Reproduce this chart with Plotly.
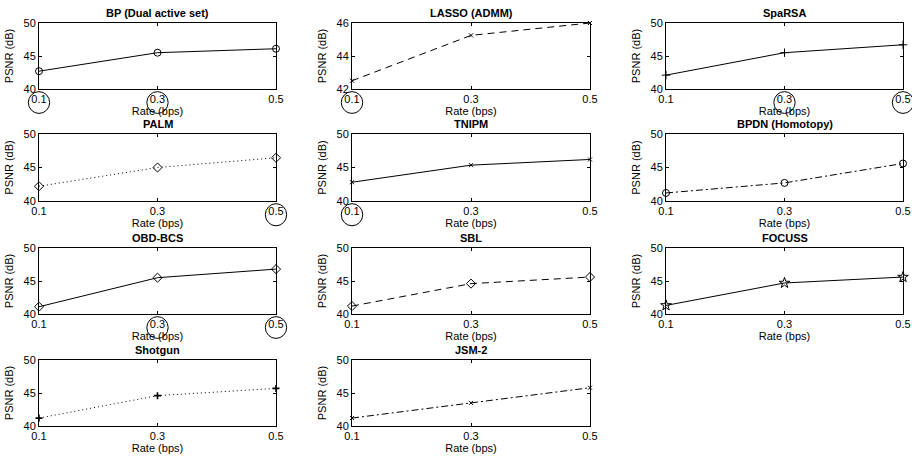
import plotly.graph_objects as go

# ---------------- data ----------------
rates = [0.1, 0.3, 0.5]
rate_labels = ["0.1", "0.3", "0.5"]

methods = ["BP (Dual active set)", "LASSO (ADMM)", "SpaRSA",
           "PALM", "TNIPM", "BPDN (Homotopy)",
           "OBD-BCS", "SBL", "FOCUSS",
           "Shotgun", "JSM-2"]

psnr_bp = [42.7, 45.5, 46.1]
psnr_lasso = [42.5, 45.25, 46.0]
psnr_sparsa = [42.1, 45.5, 46.7]
psnr_palm = [42.2, 45.0, 46.45]
psnr_tnipm = [42.8, 45.35, 46.2]
psnr_bpdn = [41.2, 42.7, 45.6]
psnr_obd = [41.1, 45.5, 46.8]
psnr_sbl = [41.2, 44.6, 45.6]
psnr_focuss = [41.3, 44.7, 45.6]
psnr_shotgun = [41.2, 44.6, 45.7]
psnr_jsm2 = [41.2, 43.5, 45.8]

psnr_all = [psnr_bp, psnr_lasso, psnr_sparsa, psnr_palm, psnr_tnipm, psnr_bpdn,
            psnr_obd, psnr_sbl, psnr_focuss, psnr_shotgun, psnr_jsm2]

y_ranges = [[40, 50], [42, 46], [40, 50], [40, 50], [40, 50], [40, 50],
            [40, 50], [40, 50], [40, 50], [40, 50], [40, 50]]
y_ticks = [[40, 45, 50], [42, 44, 46], [40, 45, 50], [40, 45, 50], [40, 45, 50],
           [40, 45, 50], [40, 45, 50], [40, 45, 50], [40, 45, 50], [40, 45, 50],
           [40, 45, 50]]

# rate ticks circled in each panel
circled = {0: [0.1, 0.3], 1: [0.1], 2: [0.3, 0.5], 3: [0.5], 4: [0.1], 6: [0.3, 0.5]}

# ---------------- styles ----------------
DASH = "7px,5px"
DOT = "1px,3px"
DASHDOT = "7px,3px,2px,3px"
dashes = ["solid", DASH, "solid", DOT, "solid", DASHDOT,
          "solid", DASH, "solid", DOT, DASHDOT]
symbols = ["circle-open", "x-thin-open", "cross-thin-open", "diamond-open",
           "x-thin-open", "circle-open", "diamond-open", "diamond-open",
           "star-open", "cross-thin-open", "x-thin-open"]
msizes = [7, 4, 6, 7, 4, 7, 7, 7, 8, 5, 4]
mwidths = [1, 1, 1, 1, 1, 1, 1, 1, 1, 1.6, 1]

W, H = 912, 458
col_px = [(39, 276), (352, 590), (666, 903)]
row_px = [(23, 89), (134, 201), (248, 314), (360, 426)]

FONT = "Liberation Sans, Arial, Helvetica, sans-serif"

fig = go.Figure()
layout = dict(
    template="none",
    width=W, height=H,
    margin=dict(l=0, r=0, t=0, b=0, pad=0),
    paper_bgcolor="white", plot_bgcolor="white",
    showlegend=False,
    font=dict(family=FONT, size=11, color="black"),
)
annotations = []
shapes = []

for i, name in enumerate(methods):
    k = i + 1
    r, c = divmod(i, 3)
    x0p, x1p = col_px[c]
    y0p, y1p = row_px[r]
    xd = [x0p / W, x1p / W]
    yd = [1 - y1p / H, 1 - y0p / H]
    xs = "" if k == 1 else str(k)

    fig.add_trace(go.Scatter(
        x=rates, y=psnr_all[i], mode="lines+markers",
        line=dict(color="black", width=1, dash=dashes[i]),
        marker=dict(symbol=symbols[i], size=msizes[i], color="black",
                    line=dict(color="black", width=mwidths[i])),
        cliponaxis=False,
        xaxis="x" + xs, yaxis="y" + xs,
    ))

    axcommon = dict(showline=True, linecolor="black", linewidth=1, mirror="ticks",
                    ticks="inside", ticklen=3, tickcolor="black", tickwidth=1,
                    showgrid=False, zeroline=False, automargin=False,
                    ticklabeloverflow="allow",
                    tickfont=dict(family=FONT, size=11, color="black"))
    layout["xaxis" + xs] = dict(
        domain=xd, anchor="y" + xs, range=[rates[0], rates[-1]],
        tickvals=rates, ticktext=rate_labels,
        title=dict(text="Rate (bps)", standoff=3, font=dict(family=FONT, size=11)),
        **axcommon)
    layout["yaxis" + xs] = dict(
        domain=yd, anchor="x" + xs, range=y_ranges[i], tickvals=y_ticks[i],
        title=dict(text="PSNR (dB)", standoff=7, font=dict(family=FONT, size=11)),
        **axcommon)

    annotations.append(dict(
        text="<b>" + name + "</b>", xref="x" + xs + " domain", yref="y" + xs + " domain",
        x=0.5, y=1.0, xanchor="center", yanchor="bottom", yshift=2, showarrow=False,
        font=dict(family=FONT, size=11, color="black")))

    # ellipses around highlighted tick labels (paper coords derived from axis mapping)
    xr = [rates[0], rates[-1]]
    for rv in circled.get(i, []):
        fx = xd[0] + (rv - xr[0]) / (xr[1] - xr[0]) * (xd[1] - xd[0])
        hw = 0.018 / (xr[1] - xr[0]) * (xd[1] - xd[0])
        hgt = yd[1] - yd[0]
        shapes.append(dict(
            type="circle", xref="paper", yref="paper",
            x0=fx - hw, x1=fx + hw,
            y0=yd[0] - 0.37 * hgt, y1=yd[0] - 0.04 * hgt,
            line=dict(color="black", width=1)))

layout["annotations"] = annotations
layout["shapes"] = shapes
fig.update_layout(**layout)

# remove the default page margin so the figure fills the window exactly
post = ("document.documentElement.style.margin='0';"
        "document.documentElement.style.overflow='hidden';"
        "document.body.style.margin='0';"
        "document.body.style.overflow='hidden';")
fig.write_html("out.html", post_script=post,
               config={"displayModeBar": False, "staticPlot": True})
